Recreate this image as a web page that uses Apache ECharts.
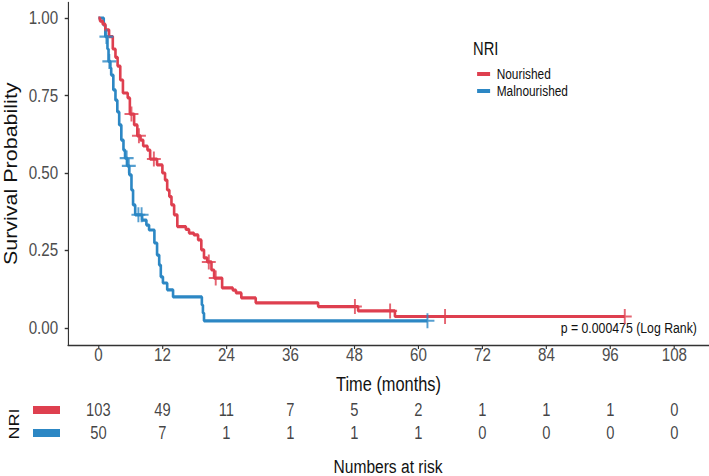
<!DOCTYPE html>
<html>
<head>
<meta charset="utf-8">
<script src="https://cdn.jsdelivr.net/npm/echarts@6/dist/echarts.min.js"></script>
<style>
html,body{margin:0;padding:0;background:#fff;overflow:hidden;width:709px;height:476px}
#c{width:865px;height:476px;transform:scaleX(0.8197);transform-origin:0 0}
</style>
</head>
<body>
<div id="c"></div>
<script>
// ---- data ----
var groups = ['Nourished', 'Malnourished'];
var redTimes = [0, 0.3, 0.8, 1.3, 2.0, 2.7, 3.2, 3.6, 4.1, 4.6, 5.5, 5.9, 6.7, 7.3, 7.9, 8.4, 9.2, 9.7, 11.0, 12.0, 12.5, 12.9, 13.3, 13.7, 14.2, 14.8, 16.4, 17.0, 17.9, 18.7, 19.3, 19.8, 20.4, 21.2, 21.7, 23.2, 25.2, 25.8, 26.8, 29.5, 41.2, 48.7, 55.6, 98.7];
var redSurv  = [1.0, 0.99, 0.98, 0.962, 0.94, 0.90, 0.873, 0.845, 0.80, 0.758, 0.742, 0.69, 0.655, 0.62, 0.606, 0.587, 0.574, 0.545, 0.526, 0.50, 0.477, 0.445, 0.424, 0.397, 0.365, 0.327, 0.318, 0.306, 0.30, 0.284, 0.252, 0.226, 0.213, 0.187, 0.161, 0.129, 0.122, 0.113, 0.097, 0.081, 0.069, 0.055, 0.037, 0.037];
var redCensor = [6.2, 7.6, 10.4, 20.7, 22.0, 48.1, 54.7, 65.0, 98.7];

var blueTimes = [0, 1.0, 1.3, 1.7, 1.9, 2.25, 2.4, 2.8, 3.2, 3.55, 3.9, 4.3, 4.7, 5.0, 5.4, 5.8, 6.2, 6.5, 6.9, 8.2, 9.0, 9.5, 10.5, 11.0, 11.4, 11.7, 12.1, 12.9, 14.0, 19.4, 19.6, 19.8, 61.7];
var blueSurv  = [1.0, 0.977, 0.94, 0.90, 0.86, 0.839, 0.816, 0.768, 0.735, 0.697, 0.655, 0.606, 0.574, 0.548, 0.523, 0.494, 0.445, 0.397, 0.365, 0.348, 0.332, 0.316, 0.274, 0.235, 0.203, 0.165, 0.145, 0.123, 0.10, 0.074, 0.048, 0.023, 0.023];
var blueCensor = [1.5, 2.05, 5.3, 5.7, 7.5, 8.1, 61.7];

var xTicks = [0, 12, 24, 36, 48, 60, 72, 84, 96, 108];
var yTicks = [0, 0.25, 0.5, 0.75, 1.0];
var riskNourished = [103, 49, 11, 7, 5, 2, 1, 1, 1, 0];
var riskMalnourished = [50, 7, 1, 1, 1, 1, 0, 0, 0, 0];
var pText = 'p = 0.000475 (Log Rank)';

// ---- styling ----
var F = 0.8197; // horizontal squeeze of the whole picture
function X(px) { return px / F; }
var RED = '#DE3F4F', BLUE = '#2C87C4';
var SANS = '"Liberation Sans", Arial, sans-serif';

function pairs(t, s) { return t.map(function (v, i) { return [v, s[i]]; }); }
function survAt(t, s, x) { var v = s[0]; for (var i = 0; i < t.length; i++) { if (t[i] <= x) v = s[i]; } return v; }
function censorPts(ct, t, s) { return ct.map(function (x) { return [x, survAt(t, s, x)]; }); }

var plus = 'path://M5,0L5,10M0,5L10,5';
var XMIN = -5.7, XMAX = 114.5;

var chart = echarts.init(document.getElementById('c'), null, { renderer: 'svg', width: 865, height: 476 });
chart.setOption({
  animation: false,
  backgroundColor: '#fff',
  grid: [
    { left: X(68), right: 0, top: 2.5, height: 342.5, outerBoundsMode: 'none', containLabel: false },
    { left: X(68), right: 0, top: 398, height: 46, outerBoundsMode: 'none', containLabel: false }
  ],
  xAxis: [
    {
      type: 'value', gridIndex: 0, min: XMIN, max: XMAX,
      name: 'Time (months)', nameLocation: 'middle', nameGap: 29,
      nameTextStyle: { fontFamily: SANS, fontSize: 20, color: '#111' },
      axisLine: { show: true, onZero: false, lineStyle: { color: '#333', width: 1.4 } },
      axisTick: { show: true, length: 4, lineStyle: { color: '#333', width: 1.4 }, customValues: xTicks },
      axisLabel: { customValues: xTicks, margin: 0, fontFamily: SANS, fontSize: 18.5, color: '#4d4d4d' },
      splitLine: { show: false }
    },
    { type: 'value', gridIndex: 1, min: XMIN, max: XMAX, show: false }
  ],
  yAxis: [
    {
      type: 'value', gridIndex: 0, min: -0.055, max: 1.05,
      name: 'Survival Probability', nameLocation: 'middle', nameGap: 57,
      nameTextStyle: { fontFamily: SANS, fontSize: 21.5, color: '#111' },
      axisLine: { show: true, onZero: false, lineStyle: { color: '#333', width: 1.4 } },
      axisTick: { show: true, length: 4, lineStyle: { color: '#333', width: 1.4 }, customValues: yTicks },
      axisLabel: { customValues: yTicks, margin: 12, fontFamily: SANS, fontSize: 18.5, color: '#4d4d4d',
        formatter: function (v) { return v.toFixed(2); } },
      splitLine: { show: false }
    },
    { type: 'category', gridIndex: 1, data: groups, inverse: true, show: false }
  ],
  legend: {
    data: groups, orient: 'vertical', left: X(473), top: 61.5, icon: 'rect',
    itemWidth: X(13), itemHeight: 4, itemGap: 2,
    textStyle: { fontFamily: SANS, fontSize: 14.5, color: '#111', padding: [0, 0, 0, 3] }
  },
  graphic: [
    { type: 'text', left: X(473), top: 39, style: { text: 'NRI', font: '18px ' + SANS, fill: '#111' } },
    { type: 'text', right: X(12), top: 321, style: { text: pText, font: '15px ' + SANS, fill: '#111' } },
    { type: 'rect', shape: { x: X(33), y: 406, width: X(27), height: 8 }, style: { fill: RED } },
    { type: 'rect', shape: { x: X(33), y: 429, width: X(27), height: 8 }, style: { fill: BLUE } },
    { type: 'text', x: X(14), y: 424, rotation: Math.PI / 2,
      style: { text: 'NRI', font: '18px ' + SANS, fill: '#111', align: 'center', verticalAlign: 'middle' } },
    { type: 'text', x: X(388), y: 466,
      style: { text: 'Numbers at risk', font: '19px ' + SANS, fill: '#111', align: 'center', verticalAlign: 'middle' } }
  ],
  series: [
    { name: 'Nourished', type: 'line', xAxisIndex: 0, yAxisIndex: 0, step: 'end', symbol: 'none',
      data: pairs(redTimes, redSurv), lineStyle: { color: RED, width: 3.2 }, itemStyle: { color: RED }, z: 3 },
    { name: 'Malnourished', type: 'line', xAxisIndex: 0, yAxisIndex: 0, step: 'end', symbol: 'none',
      data: pairs(blueTimes, blueSurv), lineStyle: { color: BLUE, width: 3.2 }, itemStyle: { color: BLUE }, z: 2 },
    { name: 'Nourished censored', type: 'scatter', xAxisIndex: 0, yAxisIndex: 0, symbol: plus, symbolSize: [17, 15],
      data: censorPts(redCensor, redTimes, redSurv),
      itemStyle: { color: 'none', borderColor: RED, borderWidth: 2.2 }, z: 4 },
    { name: 'Malnourished censored', type: 'scatter', xAxisIndex: 0, yAxisIndex: 0, symbol: plus, symbolSize: [17, 15],
      data: censorPts(blueCensor, blueTimes, blueSurv),
      itemStyle: { color: 'none', borderColor: BLUE, borderWidth: 2.2 }, z: 4 },
    { name: 'risk', type: 'scatter', xAxisIndex: 1, yAxisIndex: 1, symbolSize: 1,
      itemStyle: { color: 'rgba(0,0,0,0)' },
      data: xTicks.map(function (t, i) { return [t, groups[0], riskNourished[i]]; })
        .concat(xTicks.map(function (t, i) { return [t, groups[1], riskMalnourished[i]]; })),
      label: { show: true, position: 'inside', formatter: function (p) { return String(p.data[2]); },
        fontFamily: SANS, fontSize: 18, color: '#111' } }
  ]
});
</script>
</body>
</html>
